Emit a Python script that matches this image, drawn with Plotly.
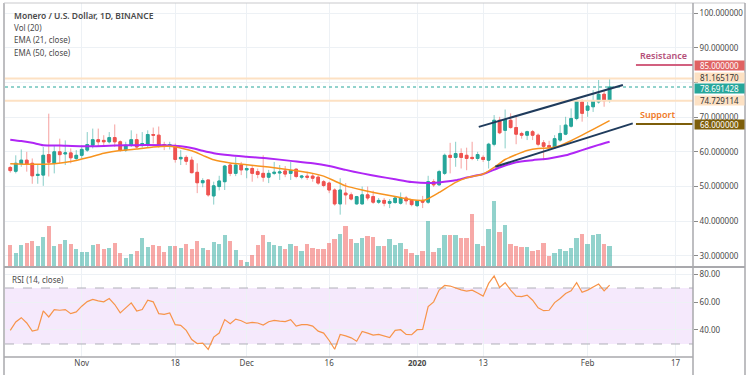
import pandas as pd
import plotly.graph_objects as go

# ---------------- data ----------------
dates = pd.date_range("2019-10-19", "2020-02-05", freq="D")

open_ = [55.5, 54.4, 56.6, 57.6, 56.7, 53.2, 53.3, 59.2, 56.7, 60.0,
         59.4, 59.7, 58.1, 59.0, 60.5, 61.9, 63.5, 63.3, 62.9, 64.1,
         62.9, 60.5, 61.9, 63.5, 61.9, 61.9, 65.0, 64.8, 62.1, 61.6,
         61.6, 58.0, 58.4, 57.6, 54.1, 51.1, 51.9, 47.3, 50.0, 51.4,
         56.2, 53.8, 56.2, 54.8, 55.2, 54.3, 53.8, 52.7, 53.8, 53.9,
         54.5, 53.8, 55.0, 52.7, 53.0, 53.0, 52.7, 51.4, 51.0, 49.0,
         45.0, 48.1, 47.6, 45.0, 45.0, 47.6, 47.1, 45.5, 46.0, 45.2,
         45.4, 45.2, 46.7, 46.0, 44.5, 46.0, 45.5, 51.4, 50.5, 53.8,
         59.0, 58.4, 59.5, 59.0, 58.4, 58.1, 58.4, 57.6, 62.2, 69.1,
         66.2, 69.1, 67.0, 65.3, 64.8, 65.8, 64.8, 62.6, 61.8, 61.2,
         63.4, 65.1, 67.4, 69.6, 74.4, 72.0, 73.0, 74.4, 76.6, 74.9]
high = [55.9, 59.0, 60.7, 60.0, 58.1, 56.2, 61.4, 71.0, 61.9, 63.8,
        63.3, 61.0, 60.5, 61.9, 65.7, 66.7, 66.7, 64.8, 65.7, 67.9,
        63.3, 62.9, 66.2, 65.2, 65.7, 66.2, 67.0, 67.3, 62.9, 62.9,
        62.4, 60.5, 59.0, 58.6, 56.7, 52.4, 51.9, 51.4, 53.1, 56.2,
        56.7, 58.6, 57.1, 56.2, 56.2, 55.2, 59.0, 54.8, 57.1, 56.2,
        55.9, 57.1, 55.2, 53.3, 54.3, 53.8, 53.3, 51.9, 51.4, 49.5,
        52.4, 51.0, 48.3, 47.3, 50.0, 50.0, 48.8, 46.7, 46.7, 46.4,
        47.1, 48.3, 47.3, 46.4, 46.0, 47.3, 53.1, 52.1, 54.8, 59.5,
        62.6, 62.9, 61.0, 61.2, 62.9, 60.0, 59.0, 62.6, 70.6, 70.1,
        72.2, 71.1, 70.1, 65.8, 66.1, 66.3, 65.3, 63.4, 63.2, 64.8,
        67.7, 70.1, 72.5, 75.4, 75.1, 74.4, 77.8, 80.7, 77.8, 81.3]
low = [54.0, 53.8, 55.7, 54.3, 50.8, 50.8, 50.2, 52.9, 53.8, 56.7,
       56.2, 56.7, 57.6, 58.1, 60.0, 61.0, 61.6, 61.9, 62.4, 61.4,
       60.0, 60.0, 61.4, 61.0, 61.2, 61.4, 62.4, 61.2, 60.5, 60.7,
       56.9, 56.2, 56.2, 53.8, 48.1, 49.8, 47.1, 44.8, 48.9, 49.0,
       53.0, 53.0, 53.3, 52.4, 51.4, 52.4, 51.4, 51.0, 53.3, 51.9,
       52.7, 51.9, 52.4, 52.1, 51.9, 51.4, 50.5, 49.8, 48.1, 44.5,
       41.9, 44.8, 46.0, 44.8, 44.8, 46.0, 45.0, 45.0, 44.3, 43.8,
       45.0, 44.8, 44.8, 44.3, 44.1, 43.8, 45.0, 49.9, 50.2, 53.3,
       53.8, 55.7, 55.2, 54.7, 57.6, 57.4, 57.1, 55.2, 61.6, 65.1,
       61.0, 66.7, 62.2, 63.8, 63.4, 63.4, 61.6, 57.6, 60.5, 61.0,
       62.9, 64.8, 67.0, 69.1, 68.7, 70.1, 71.5, 73.9, 73.0, 74.2]
close = [54.6, 56.7, 57.6, 56.4, 53.1, 53.5, 59.0, 57.0, 60.0, 59.2,
         59.7, 58.3, 59.0, 60.7, 62.1, 63.5, 62.9, 62.9, 64.1, 62.9,
         60.5, 61.9, 63.5, 61.4, 62.4, 65.0, 64.8, 61.9, 61.7, 62.1,
         57.8, 58.4, 57.3, 54.0, 51.1, 51.7, 47.6, 50.2, 51.6, 55.9,
         53.8, 56.2, 54.8, 55.2, 53.8, 53.5, 52.7, 53.8, 54.1, 54.2,
         53.6, 54.6, 52.9, 53.0, 52.7, 52.4, 51.0, 50.3, 49.0, 45.0,
         49.0, 47.6, 46.4, 47.1, 47.6, 46.7, 45.5, 46.0, 45.2, 45.7,
         46.7, 46.7, 45.9, 44.8, 45.9, 45.5, 51.4, 50.5, 54.3, 59.0,
         58.4, 59.5, 58.4, 58.1, 58.1, 59.2, 57.8, 62.2, 69.1, 65.5,
         69.3, 67.0, 65.1, 64.8, 65.8, 64.8, 62.2, 61.6, 61.3, 63.8,
         65.3, 67.7, 69.6, 74.7, 71.1, 73.2, 74.7, 76.6, 74.7, 78.691428]
volume = [63, 38, 63, 69, 75, 59, 88, 119, 61, 67,
          77, 65, 50, 42, 42, 62, 67, 51, 53, 70,
          40, 25, 35, 46, 84, 57, 63, 61, 41, 61,
          59, 55, 65, 50, 75, 55, 48, 71, 67, 92,
          74, 48, 19, 13, 34, 63, 92, 71, 63, 59,
          50, 67, 60, 44, 65, 55, 50, 50, 69, 80,
          95, 119, 82, 69, 83, 89, 88, 59, 59, 80,
          62, 69, 50, 38, 32, 44, 135, 42, 53, 94,
          94, 92, 84, 84, 155, 67, 61, 110, 195, 103,
          124, 67, 59, 57, 58, 46, 47, 69, 31, 38,
          50, 44, 55, 85, 96, 65, 93, 95, 65, 60]
rsi = [39.7, 45.7, 48.8, 45.0, 39.2, 40.2, 53.6, 49.3, 54.6, 54.1,
       54.6, 51.7, 52.9, 57.0, 60.3, 61.8, 60.8, 60.1, 62.5, 58.2,
       52.2, 55.8, 59.4, 53.6, 54.6, 61.3, 60.1, 51.7, 51.2, 52.2,
       43.8, 43.3, 39.7, 33.2, 30.3, 30.6, 26.2, 34.9, 37.8, 47.4,
       44.5, 47.8, 46.6, 44.7, 45.4, 45.0, 43.5, 45.9, 46.9, 46.4,
       46.0, 47.4, 42.8, 43.8, 43.8, 42.8, 39.2, 37.8, 32.5, 26.2,
       36.8, 35.8, 34.4, 32.0, 39.0, 37.8, 36.3, 36.8, 35.6, 34.6,
       39.7, 40.2, 36.8, 36.6, 40.2, 40.4, 56.7, 60.1, 68.5, 71.8,
       71.4, 69.9, 68.7, 67.8, 68.5, 66.5, 64.2, 73.3, 78.6, 70.4,
       73.8, 68.5, 64.2, 63.9, 64.9, 61.3, 55.8, 53.8, 54.1, 59.6,
       62.5, 66.1, 68.0, 73.8, 67.0, 68.5, 70.4, 72.8, 68.0, 72.1]

ema21_dates = ["2019-10-19", "2019-10-23", "2019-10-27", "2019-10-30", "2019-11-02",
               "2019-11-05", "2019-11-08", "2019-11-11", "2019-11-14", "2019-11-17",
               "2019-11-19", "2019-11-21", "2019-11-23", "2019-11-25", "2019-11-28",
               "2019-12-01", "2019-12-05", "2019-12-09", "2019-12-13", "2019-12-15",
               "2019-12-17", "2019-12-19", "2019-12-22", "2019-12-25", "2019-12-28",
               "2019-12-31", "2020-01-02", "2020-01-03", "2020-01-05", "2020-01-08",
               "2020-01-10", "2020-01-13", "2020-01-15", "2020-01-17", "2020-01-19",
               "2020-01-21", "2020-01-23", "2020-01-25", "2020-01-27", "2020-01-29",
               "2020-01-31", "2020-02-02", "2020-02-05"]
ema21 = [56.6, 56.4, 56.6, 57.2, 58.3, 59.6, 60.4, 60.8, 61.4, 61.6,
         61.1, 60.3, 59.0, 57.7, 56.8, 56.3, 55.6, 54.8, 53.8, 53.0,
         51.6, 50.2, 49.0, 48.0, 47.1, 46.2, 46.0, 46.5, 48.3, 51.2,
         52.5, 53.6, 55.5, 57.8, 59.2, 60.4, 61.0, 61.1, 61.8, 63.2,
         64.8, 66.5, 69.0]
ema50_dates = ["2019-10-19", "2019-10-21", "2019-10-23", "2019-10-25", "2019-10-28",
               "2019-11-01", "2019-11-05", "2019-11-09", "2019-11-13", "2019-11-16",
               "2019-11-19", "2019-11-21", "2019-11-23", "2019-11-25", "2019-11-28",
               "2019-12-01", "2019-12-05", "2019-12-09", "2019-12-13", "2019-12-16",
               "2019-12-19", "2019-12-22", "2019-12-25", "2019-12-28", "2019-12-31",
               "2020-01-03", "2020-01-05", "2020-01-08", "2020-01-10", "2020-01-13",
               "2020-01-16", "2020-01-19", "2020-01-22", "2020-01-25", "2020-01-28",
               "2020-01-31", "2020-02-03", "2020-02-05"]
ema50 = [63.5, 63.1, 62.6, 61.9, 61.8, 61.6, 61.7, 61.9, 62.0, 61.9,
         61.6, 61.1, 60.3, 59.6, 59.0, 58.6, 58.1, 57.4, 56.7, 55.9,
         54.8, 53.8, 52.9, 52.1, 51.3, 51.0, 51.2, 51.8, 52.6, 53.6,
         55.5, 57.0, 57.6, 58.1, 59.0, 60.5, 62.0, 62.9]

upper_channel_dates = ["2020-01-12 05:00", "2020-02-07 10:00"]
upper_channel = [67.2, 79.25]
lower_channel_dates = ["2020-01-15 05:00", "2020-02-09 05:00"]
lower_channel = [55.7, 68.2]

level_dates = ["2020-02-09 19:00", "2020-02-20 04:00"]
resistance = 85.0
support = 68.0
level_high = 81.165170
level_low = 74.729114
last_price = 78.691428
rsi_upper, rsi_lower = 70, 30

price_ticks = [30, 40, 50, 60, 70, 80, 90, 100]
price_tick_labels = ["30.000000", "40.000000", "50.000000", "60.000000", "70.000000", "",
                     "90.000000", "100.000000"]
rsi_ticks = [40, 60, 80]
rsi_tick_labels = ["40.00", "60.00", "80.00"]
time_tick_dates = ["2019-11-01", "2019-11-18", "2019-12-01", "2019-12-16",
                   "2020-01-01", "2020-01-13", "2020-02-01", "2020-02-17"]
time_tick_labels = ["Nov", "18", "Dec", "16", "<b>2020</b>", "13", "Feb", "17"]

# ---------------- styling / geometry ----------------
W, H = 750, 375
ML, MR, MT, MB = 5, 57, 3, 18
PW, PH = W - ML - MR, H - MT - MB


def px_x(X):
    return (X - ML) / PW


def px_y(Y):
    return (H - MB - Y) / PH


FONT = "Noto Sans"
FS = 8
TXT = "#4a4a4a"
GRID = "#edf1f5"
UP, DOWN = "#26a69a", "#ef5350"
UP_PALE, DOWN_PALE = "rgba(38,166,154,0.5)", "rgba(239,83,80,0.5)"
X_RANGE = ["2019-10-18 01:00", "2020-02-20 04:00"]
PRICE_RANGE = [27.1, 102.9]
VOL_RANGE = [0, 790]
RSI_RANGE = [20.7, 84.3]
price_dom = [px_y(266), 1.0]
rsi_dom = [0.0, px_y(268)]

fig = go.Figure()

vol_colors = [UP_PALE if c >= o else DOWN_PALE for o, c in zip(open_, close)]
fig.add_trace(go.Bar(x=dates, y=volume, marker=dict(color=vol_colors, line_width=0),
                     width=0.8 * 86400000, xaxis="x", yaxis="y", hoverinfo="skip"))

# full-width horizontal price levels (drawn first, under candles)
for v, col, dash, wdt in ((level_high, "#fde1c3", "solid", 2), (level_low, "#fde1c3", "solid", 2),
                          (last_price, "#26a69a", "dot", 1)):
    fig.add_trace(go.Scatter(x=X_RANGE, y=[v, v], mode="lines", line=dict(color=col, width=wdt, dash=dash),
                             xaxis="x", yaxis="y3", hoverinfo="skip"))

# wicks (pale)
fig.add_trace(go.Candlestick(
    x=dates, open=open_, high=high, low=low, close=close,
    increasing=dict(line=dict(color="rgba(38,166,154,0.55)", width=1), fillcolor="rgba(38,166,154,0.55)"),
    decreasing=dict(line=dict(color="rgba(239,83,80,0.55)", width=1), fillcolor="rgba(239,83,80,0.55)"),
    xaxis="x", yaxis="y3", hoverinfo="skip"))
# bodies (solid)
body_hi = [max(o, c) for o, c in zip(open_, close)]
body_lo = [min(o, c) for o, c in zip(open_, close)]
fig.add_trace(go.Candlestick(
    x=dates, open=open_, high=body_hi, low=body_lo, close=close,
    increasing=dict(line=dict(color=UP, width=1), fillcolor=UP),
    decreasing=dict(line=dict(color=DOWN, width=1), fillcolor=DOWN),
    xaxis="x", yaxis="y3"))

fig.add_trace(go.Scatter(x=ema50_dates, y=ema50, mode="lines",
                         line=dict(color="#b026f5", width=2, shape="spline", smoothing=0.6),
                         xaxis="x", yaxis="y3"))
fig.add_trace(go.Scatter(x=ema21_dates, y=ema21, mode="lines",
                         line=dict(color="#f7931e", width=1.5, shape="spline", smoothing=0.6),
                         xaxis="x", yaxis="y3"))

for d, v in ((upper_channel_dates, upper_channel), (lower_channel_dates, lower_channel)):
    fig.add_trace(go.Scatter(x=d, y=v, mode="lines", line=dict(color="#1f3b5c", width=2),
                             xaxis="x", yaxis="y3"))

fig.add_trace(go.Scatter(x=level_dates, y=[resistance, resistance], mode="lines",
                         line=dict(color="#d2607f", width=2), xaxis="x", yaxis="y3"))
fig.add_trace(go.Scatter(x=level_dates, y=[support, support], mode="lines",
                         line=dict(color="#7d5e0a", width=2), xaxis="x", yaxis="y3"))

# RSI pane
for v in (rsi_upper, rsi_lower):
    fig.add_trace(go.Scatter(x=X_RANGE, y=[v, v], mode="lines",
                             line=dict(color="#b0b0b8", width=1, dash="dash"),
                             xaxis="x2", yaxis="y2", hoverinfo="skip"))
fig.add_trace(go.Scatter(x=dates, y=rsi, mode="lines", line=dict(color="#f7944a", width=1.2),
                         xaxis="x2", yaxis="y2"))

shapes = [dict(type="rect", xref="paper", yref="y2", x0=0, x1=1, y0=rsi_lower, y1=rsi_upper,
               fillcolor="rgba(156,39,230,0.10)", line_width=0, layer="below")]
# frame
FR = "#a9a9ad"
xl, xr = px_x(4), px_x(745)
shapes += [
    dict(type="line", xref="paper", yref="paper", x0=xl, x1=xl, y0=px_y(375), y1=px_y(3), line=dict(color=FR, width=1.5)),
    dict(type="line", xref="paper", yref="paper", x0=xl, x1=xr, y0=px_y(3), y1=px_y(3), line=dict(color="#c9c9cc", width=1)),
    dict(type="line", xref="paper", yref="paper", x0=xr, x1=xr, y0=px_y(375), y1=px_y(3), line=dict(color=FR, width=1.5)),
    dict(type="line", xref="paper", yref="paper", x0=1, x1=1, y0=px_y(375), y1=px_y(3), line=dict(color=FR, width=1.5)),
    dict(type="line", xref="paper", yref="paper", x0=xl, x1=xr, y0=px_y(267), y1=px_y(267), line=dict(color=FR, width=2)),
    dict(type="line", xref="paper", yref="paper", x0=xl, x1=1, y0=0, y1=0, line=dict(color=FR, width=1.5)),
]

ann = []
legend_lines = [("Monero / U.S. Dollar, 1D, BINANCE", 15, 8.5, 600),
                ("Vol (20)", 27.5, FS, 400), ("EMA (21, close)", 40, FS, 400), ("EMA (50, close)", 52, FS, 400)]
for t, yy, sz, wt in legend_lines:
    ann.append(dict(text=t, xref="paper", yref="paper", x=px_x(12), y=px_y(yy), xanchor="left",
                    yanchor="middle", showarrow=False, font=dict(family=FONT, size=sz, color=TXT, weight=wt)))
ann.append(dict(text="RSI (14, close)", xref="paper", yref="paper", x=px_x(10), y=px_y(279), xanchor="left",
                yanchor="middle", showarrow=False, font=dict(family=FONT, size=FS, color=TXT)))
ann.append(dict(text="Resistance", xref="x", yref="y3", x=level_dates[0], y=resistance, xanchor="left",
                yanchor="bottom", xshift=2, yshift=1, showarrow=False,
                font=dict(family=FONT, size=9, color="#b5507a", weight=600)))
ann.append(dict(text="Support", xref="x", yref="y3", x=level_dates[0], y=support, xanchor="left",
                yanchor="bottom", xshift=2, yshift=1, showarrow=False,
                font=dict(family=FONT, size=9, color="#f07a28", weight=600)))
for v, bg, fg, ys in ((resistance, "#e06262", "white", 0), (level_high, "#fde1c3", "#333333", 1),
                      (last_price, "#26a69a", "white", -1), (level_low, "#fde1c3", "#333333", 0),
                      (support, "#7d5e0a", "white", 0)):
    ann.append(dict(text=f"{v:.6f}", xref="paper", yref="y3", x=1, y=v, xanchor="left", yanchor="middle",
                    showarrow=False, bgcolor=bg, width=49, height=9, borderpad=0, xshift=1, yshift=ys,
                    align="center", font=dict(family=FONT, size=FS, color=fg)))

fig.update_layout(
    width=W, height=H, margin=dict(l=ML, r=MR, t=MT, b=MB, autoexpand=False),
    paper_bgcolor="white", plot_bgcolor="white", showlegend=False,
    font=dict(family=FONT, size=FS, color=TXT),
    xaxis=dict(type="date", range=X_RANGE, domain=[0, 1], anchor="y", showgrid=True, gridcolor=GRID,
               tickvals=time_tick_dates, ticktext=time_tick_labels, showticklabels=False,
               rangeslider=dict(visible=False), showline=False, zeroline=False, ticks=""),
    xaxis2=dict(type="date", range=X_RANGE, domain=[0, 1], anchor="y2", matches="x", showgrid=True, gridcolor=GRID,
                tickvals=time_tick_dates, ticktext=time_tick_labels, showticklabels=True, ticks="",
                tickfont=dict(family=FONT, size=FS, color=TXT), showline=False, zeroline=False,
                rangeslider=dict(visible=False)),
    yaxis=dict(domain=price_dom, range=VOL_RANGE, visible=False, fixedrange=True),
    yaxis3=dict(domain=price_dom, range=PRICE_RANGE, overlaying="y", side="right", anchor="x",
                tickvals=price_ticks, ticktext=price_tick_labels,
                showgrid=True, gridcolor=GRID, zeroline=False, showline=False,
                ticks="outside", ticklen=4, tickcolor="#8a8a8a",
                tickfont=dict(family=FONT, size=FS, color=TXT)),
    yaxis2=dict(domain=rsi_dom, range=RSI_RANGE, side="right", anchor="x2",
                tickvals=rsi_ticks, ticktext=rsi_tick_labels,
                showgrid=True, gridcolor=GRID, zeroline=False, showline=False,
                ticks="outside", ticklen=4, tickcolor="#8a8a8a",
                tickfont=dict(family=FONT, size=FS, color=TXT)),
    shapes=shapes, annotations=ann, bargap=0,
)

fig.write_html("out.html", config={"displayModeBar": False},
               post_script="document.body.style.margin='0';document.body.style.padding='0';"
                           "document.body.style.overflow='hidden';")
